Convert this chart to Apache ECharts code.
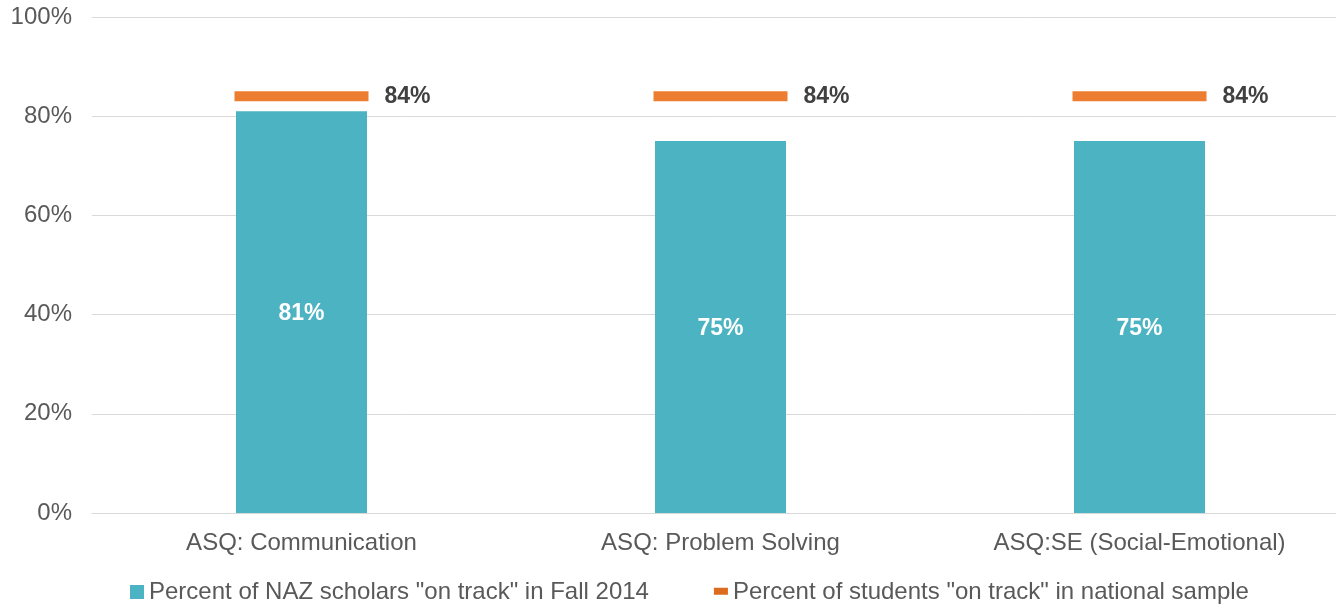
<!DOCTYPE html>
<html><head><meta charset="utf-8">
<script src="https://cdn.jsdelivr.net/npm/echarts@6/dist/echarts.min.js"></script>
<style>html,body{margin:0;padding:0;background:#fff}#c{width:1336px;height:604px}</style>
</head><body><div id="c"></div>
<script>
const categories = ['ASQ: Communication', 'ASQ: Problem Solving', 'ASQ:SE (Social-Emotional)'];
const nazValues = [81, 75, 75];
const nationalValues = [84, 84, 84];
const seriesNames = ['Percent of NAZ scholars "on track" in Fall 2014', 'Percent of students "on track" in national sample'];

const chart = echarts.init(document.getElementById('c'));
const font = 'Liberation Sans, Arial, sans-serif';
chart.setOption({
  animation: false,
  textStyle: { fontFamily: font },
  grid: { left: 92, width: 1257, top: 17, height: 496, outerBoundsMode: 'none', containLabel: false },
  legend: {
    left: 125, top: 575,
    itemWidth: 14, itemHeight: 14, itemGap: 65,
    textStyle: { fontSize: 24, color: '#595959', fontFamily: font },
    data: [
      { name: seriesNames[0], icon: 'rect' },
      { name: seriesNames[1], icon: 'path://M0,2h10v5h-10z M0,0h0.01v10h-0.01z', itemStyle: { color: '#DD6B1F' } }
    ]
  },
  xAxis: {
    type: 'category', data: categories,
    axisLine: { lineStyle: { color: '#D9D9D9', width: 1 } },
    axisTick: { show: false },
    axisLabel: { fontSize: 24, color: '#595959', margin: 18 }
  },
  yAxis: {
    type: 'value', min: 0, max: 100, interval: 20,
    axisLabel: { formatter: '{value}%', fontSize: 24, color: '#595959', margin: 20 },
    splitLine: { lineStyle: { color: '#D9D9D9' } },
    axisLine: { show: false }, axisTick: { show: false }
  },
  series: [
    {
      name: seriesNames[0], type: 'bar', data: nazValues, barWidth: 131,
      itemStyle: { color: '#4BB3C1' },
      label: { show: true, position: 'inside', offset: [0, 2], formatter: '{c}%', color: '#fff', fontWeight: 'bold', fontSize: 23 }
    },
    {
      name: seriesNames[1], type: 'scatter', data: nationalValues,
      symbol: 'rect', symbolSize: [134, 10],
      itemStyle: { color: '#ED7D31', opacity: 1 },
      label: { show: true, position: 'right', distance: 16, formatter: '{c}%', color: '#404040', fontWeight: 'bold', fontSize: 23 }
    }
  ]
});
</script></body></html>
